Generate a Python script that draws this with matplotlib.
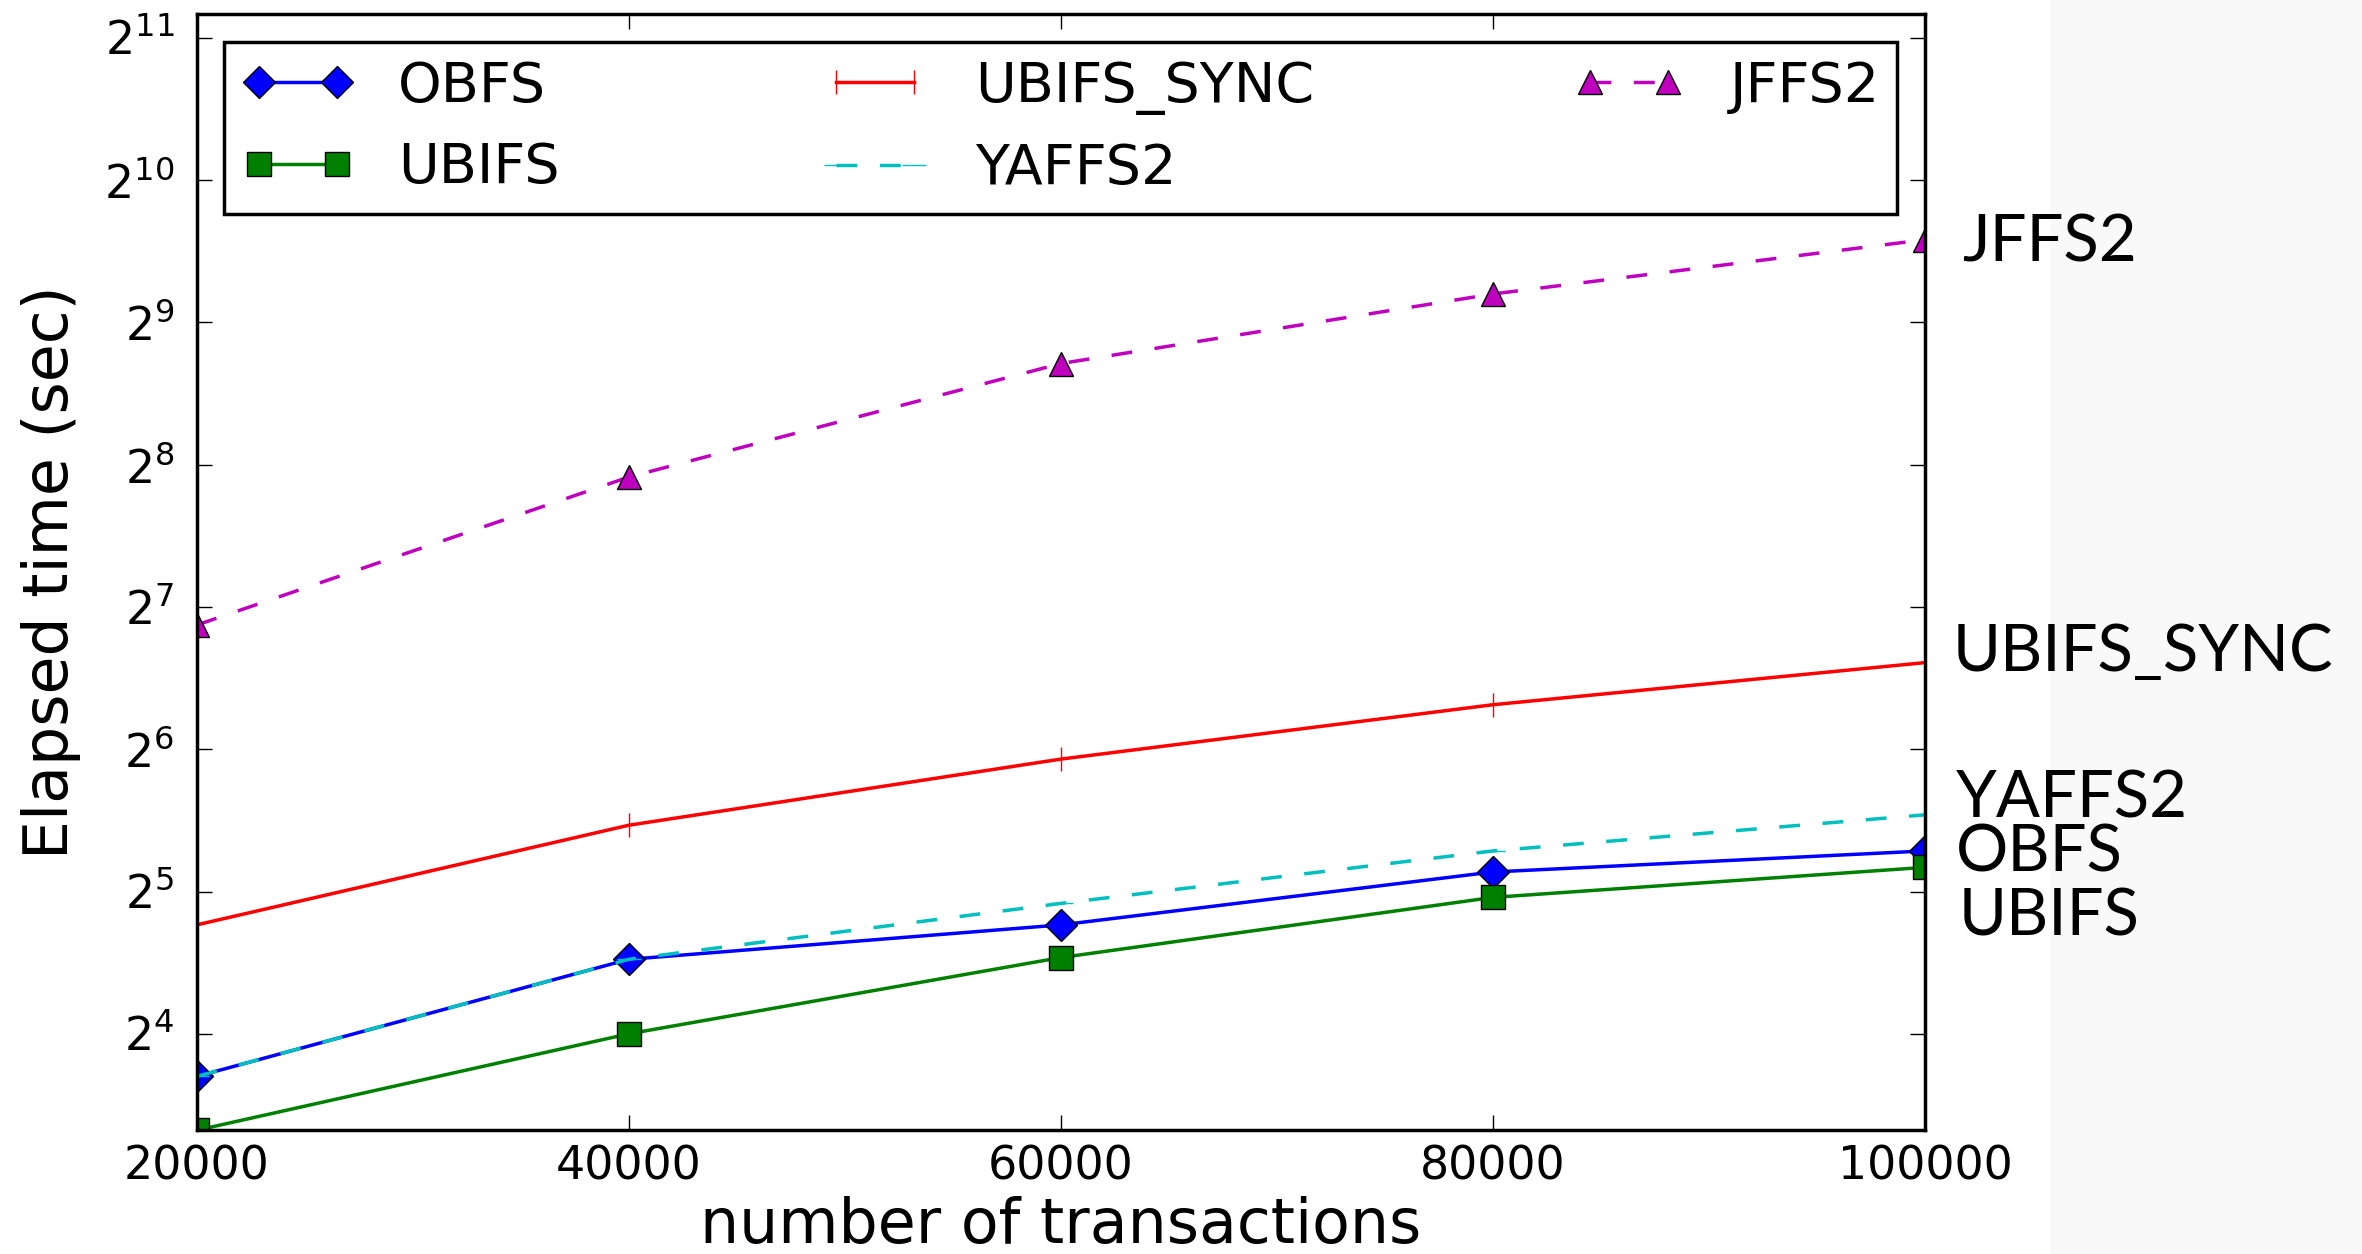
import matplotlib
matplotlib.use("Agg")
import matplotlib.pyplot as plt
from matplotlib.patches import Rectangle

transactions = [20000, 40000, 60000, 80000, 100000]
obfs = [13.0, 23.0, 27.2, 35.2, 39.0]
ubifs = [10.0, 16.0, 23.2, 31.1, 36.0]
ubifs_sync = [27.2, 44.2, 61.0, 79.5, 97.6]
yaffs2 = [13.0, 23.0, 30.2, 39.0, 46.5]
jffs2 = [117.2, 241.0, 419.0, 588.0, 766.0]

W, H = 2362, 1254
fig = plt.figure(figsize=(W / 100, H / 100), dpi=100)
fig.patches.append(Rectangle((2050 / W, 0), 1, 1, transform=fig.transFigure,
                             facecolor="#f9f9f9", edgecolor="none", zorder=-10))

ax = fig.add_axes([196.7 / W, 1 - 1130.3 / H, (1925 - 196.7) / W, (1130.3 - 14) / H])

lw = 2.5
ms = 17
ax.plot(transactions, obfs, color="b", marker="D", markersize=ms - 1, markeredgecolor="k",
        markeredgewidth=1, linewidth=lw, label="OBFS")
ax.plot(transactions, ubifs, color="g", marker="s", markersize=ms, markeredgecolor="k",
        markeredgewidth=1, linewidth=lw, label="UBIFS")
ax.plot(transactions, ubifs_sync, color="r", marker="|", markersize=ms, markeredgewidth=1,
        linewidth=lw, label="UBIFS_SYNC")
ax.plot(transactions, yaffs2, color="c", marker="_", markersize=ms, markeredgewidth=1,
        linewidth=lw, dashes=(6, 6.5), label="YAFFS2")
ax.plot(transactions, jffs2, color="m", marker="^", markersize=ms, markeredgecolor="k",
        markeredgewidth=1, linewidth=lw, dashes=(6, 6.5), label="JFFS2")

ax.set_yscale("log", base=2)
ax.set_xlim(20000, 100000)
ax.set_ylim(10, 2300)
ax.set_xticks(transactions)
ax.set_yticks([2 ** k for k in range(4, 12)])
ax.minorticks_off()
ax.tick_params(which="both", direction="in", top=True, right=True, length=11, width=1,
               labelsize=33)
ax.tick_params(axis="x", pad=10)
ax.tick_params(axis="y", pad=16)
for s in ax.spines.values():
    s.set_linewidth(2.5)

ax.set_xlabel("number of transactions", fontsize=44.5, labelpad=5)
ax.set_ylabel("Elapsed time (sec)", fontsize=44.5, labelpad=17)

leg = ax.legend(loc="upper left", bbox_to_anchor=(0, 0, 1, 1), mode="expand", ncol=3,
                numpoints=2, fontsize=40, fancybox=False, framealpha=1, edgecolor="k",
                handlelength=2, handletextpad=0.8, labelspacing=0.5, borderpad=0.32,
                borderaxespad=0.5, columnspacing=2)
leg.get_frame().set_linewidth(2.5)

# labels at right of the plot
side = [("JFFS2", 1962, 262), ("UBIFS_SYNC", 1953, 671), ("YAFFS2", 1956, 817),
        ("OBFS", 1956, 871), ("UBIFS", 1959, 935)]
for name, px, py in side:
    fig.text(px / W, 1 - py / H, name, fontsize=47, family="Lato",
             ha="left", va="baseline")

fig.savefig("out.png", dpi=100)
